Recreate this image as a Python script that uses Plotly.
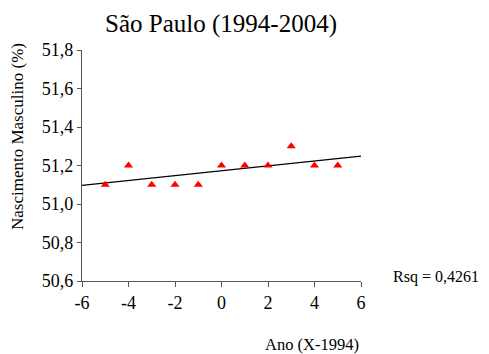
import numpy as np
import plotly.graph_objects as go

anos = [-5, -4, -3, -2, -1, 0, 1, 2, 3, 4, 5]
nascimento_masc = [51.1, 51.2, 51.1, 51.1, 51.1, 51.2, 51.2, 51.2, 51.3, 51.2, 51.2]
x_ticks = [-6, -4, -2, 0, 2, 4, 6]
x_ticktext = ["-6", "-4", "-2", "0", "2", "4", "6"]
y_ticks = [50.6, 50.8, 51.0, 51.2, 51.4, 51.6, 51.8]
y_ticktext = ["50,6", "50,8", "51,0", "51,2", "51,4", "51,6", "51,8"]

slope, intercept = np.polyfit(anos, nascimento_masc, 1)
pred = np.polyval([slope, intercept], anos)
ss_res = np.sum((np.array(nascimento_masc) - pred) ** 2)
ss_tot = np.sum((np.array(nascimento_masc) - np.mean(nascimento_masc)) ** 2)
r2 = 1 - ss_res / ss_tot
line_x = [-6, 6]
line_y = [slope * v + intercept for v in line_x]

font = "Liberation Serif"

fig = go.Figure()
fig.add_trace(go.Scatter(x=line_x, y=line_y, mode="lines",
                         line=dict(color="black", width=1.2), hoverinfo="skip"))
fig.add_trace(go.Scatter(x=anos, y=nascimento_masc, mode="markers",
                         marker=dict(symbol="triangle-up", color="#ff0000", size=8)))

fig.update_layout(
    width=489, height=354,
    margin=dict(l=82, r=128, t=50, b=73),
    paper_bgcolor="white", plot_bgcolor="white",
    showlegend=False,
    font=dict(family=font, color="black"),
    title=dict(text="São Paulo (1994-2004)", x=221 / 489, xanchor="center",
               y=1 - 23 / 354, yanchor="middle",
               font=dict(size=25, family=font, color="black")),
)
fig.update_xaxes(range=[-6, 6], tickvals=x_ticks, ticktext=x_ticktext,
                 showgrid=False, zeroline=False, showline=True, linecolor="#555555",
                 linewidth=1.2, ticks="outside", ticklen=5, tickcolor="#555555",
                 tickfont=dict(size=18, family=font, color="black"))
fig.update_yaxes(range=[50.6, 51.8], tickvals=y_ticks, ticktext=y_ticktext,
                 showgrid=False, zeroline=False, showline=True, linecolor="#555555",
                 linewidth=1.2, ticks="outside", ticklen=4, tickcolor="#555555",
                 tickfont=dict(size=18, family=font, color="black"))

fig.add_annotation(text="Nascimento Masculino (%)", textangle=-90,
                   xref="paper", yref="paper", x=-82 / 279 + 17 / 279, y=(281 - 137) / 231,
                   xanchor="center", yanchor="middle", showarrow=False,
                   font=dict(size=17, family=font, color="black"))
fig.add_annotation(text="Ano (X-1994)", xref="paper", yref="paper",
                   x=(312 - 82) / 279, y=-(344 - 281) / 231,
                   xanchor="center", yanchor="middle", showarrow=False,
                   font=dict(size=16.5, family=font, color="black"))
fig.add_annotation(text="Rsq = " + f"{r2:.4f}".replace(".", ","), xref="paper", yref="paper",
                   x=(436 - 82) / 279, y=-(277 - 281) / 231,
                   xanchor="center", yanchor="middle", showarrow=False,
                   font=dict(size=16, family=font, color="black"))

fig.write_html("out.html")
